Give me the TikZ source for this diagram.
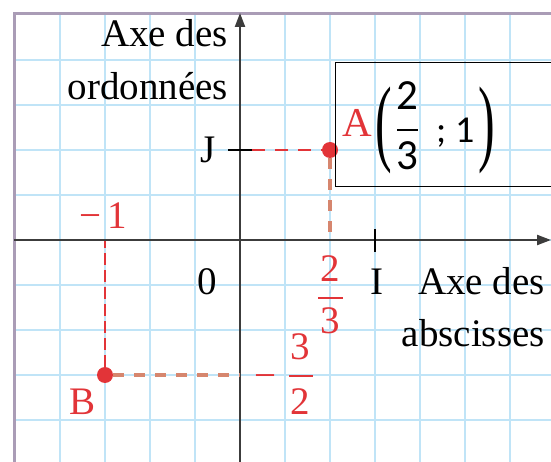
\documentclass[tikz,border=0pt]{standalone}
\usepackage{fontspec}
\setmainfont{Liberation Serif}
\newfontfamily\boxfont{Carlito}
\usetikzlibrary{arrows.meta}
\definecolor{gridblue}{RGB}{192,228,247}
\definecolor{bordergrey}{RGB}{170,156,182}
\definecolor{axisgrey}{RGB}{60,60,60}
\definecolor{ptred}{RGB}{226,52,56}
\definecolor{salmon}{RGB}{214,134,110}
\begin{document}
\begin{tikzpicture}[x=1pt,y=-1pt,
  gridline/.style={draw=gridblue,line width=2.5pt},
  borderline/.style={draw=bordergrey,line width=3pt},
  axis/.style={draw=axisgrey,line width=2.2pt,-{Triangle[width=10pt,length=14pt]}},
  tickline/.style={draw=black,line width=1.8pt},
  reddash/.style={draw=ptred,line width=2pt,dash pattern=on 13pt off 10pt},
  reddashb/.style={draw=ptred,line width=2pt,dash pattern=on 12pt off 5pt},
  salmondash/.style={draw=salmon,line width=3.5pt,dash pattern=on 11pt off 10pt},
  dot/.style={circle,fill=ptred,inner sep=0pt,minimum size=16pt},
  lbl/.style={inner sep=0pt,font=\fontsize{39}{39}\selectfont},
  redlbl/.style={lbl,text=ptred},
  fracbar/.style={draw=ptred,line width=2pt},
  boxline/.style={draw=black,line width=1pt},
  boxtxt/.style={inner sep=0pt,font=\boxfont\fontsize{43}{43}\selectfont},
  smalltxt/.style={inner sep=0pt,font=\boxfont\fontsize{38}{38}\selectfont},
  paren/.style={inner sep=0pt,font=\fontsize{40}{40}\selectfont}]
\useasboundingbox (0,0) rectangle (551,462);
\clip (0,0) rectangle (551,462);
\fill[white] (0,0) rectangle (551,462);
% grid
\foreach \x in {60,105,...,510} \draw[gridline] (\x,14) -- (\x,462);
\foreach \y in {60,105,...,420} \draw[gridline] (14,\y) -- (551,\y);
\draw[borderline] (14,462) -- (14,14) -- (551,14);
% axes
\coordinate (xs) at (14,240);
\coordinate (xe) at (551,240);
\coordinate (ys) at (240,462);
\coordinate (ye) at (240,13);
\draw[axis] (xs) -- (xe);
\draw[axis] (ys) -- (ye);
% ticks
\coordinate (Jl) at (228,150);
\coordinate (Jr) at (252,150);
\coordinate (It) at (375,229);
\coordinate (Ib) at (375,252);
\draw[tickline] (Jl) -- (Jr);
\draw[tickline] (It) -- (Ib);
% points
\node[dot] (A) at (330,150) {};
\node[dot] (B) at (105,375) {};
\coordinate (Ax) at (330,240);
\coordinate (Bx) at (105,241);
\coordinate (By) at (240,375);
\draw[reddash] (Jr) -- (A);
\draw[salmondash] (A) -- (Ax);
\draw[reddashb] (B) -- (Bx);
\draw[salmondash] (B) -- (By);
% labels
\node[lbl,anchor=base east] (ay1) at (228,47) {Axe des};
\node[lbl,anchor=base east] (ay2) at (228,100) {ordonnées};
\node[lbl,anchor=base east] (J) at (216,163) {J};
\node[lbl,anchor=base] (zero) at (207,294) {0};
\node[lbl,anchor=base] (I) at (377,294) {I};
\node[lbl,anchor=base east] (ax1) at (545,294) {Axe des};
\node[lbl,anchor=base east] (ax2) at (545,346) {abscisses};
\node[redlbl,anchor=base] (m1) at (103,229) {−\,1};
\node[redlbl,anchor=base] (Blbl) at (83,414) {B};
% fraction 2/3
\node[redlbl,anchor=base] (f2) at (330,281) {2};
\node[redlbl,anchor=base] (f3) at (330,333) {3};
\coordinate (fb1) at (318,298);
\coordinate (fb2) at (343,298);
\draw[fracbar] (fb1) -- (fb2);
% -3/2
\node[redlbl,anchor=base] (mm) at (265,388) {−};
\node[redlbl,anchor=base] (g3) at (300,359) {3};
\node[redlbl,anchor=base] (g2) at (300,414) {2};
\coordinate (gb1) at (289,376);
\coordinate (gb2) at (313,376);
\draw[fracbar] (gb1) -- (gb2);
% box with A(2/3 ; 1)
\coordinate (bx1) at (335,63);
\coordinate (bx2) at (600,187);
\draw[boxline] (bx1) rectangle (bx2);
\node[redlbl,anchor=base,font=\fontsize{41}{41}\selectfont] (Albl) at (357,137) {A};
\node[paren] (lp) at (384,130) {\scalebox{1.25}[2.4]{(}};
\node[boxtxt,anchor=base] (n2) at (407,110) {2};
\node[boxtxt,anchor=base] (n3) at (407,170) {3};
\coordinate (nb1) at (397,130);
\coordinate (nb2) at (418,130);
\draw[draw=black,line width=2pt] (nb1) -- (nb2);
\node[smalltxt,anchor=base west] (semi) at (436,143) {;};
\node[smalltxt,anchor=base west] (one) at (455,143) {1};
\node[paren] (rp) at (487,130) {\scalebox{1.25}[2.4]{)}};
\end{tikzpicture}
\end{document}
